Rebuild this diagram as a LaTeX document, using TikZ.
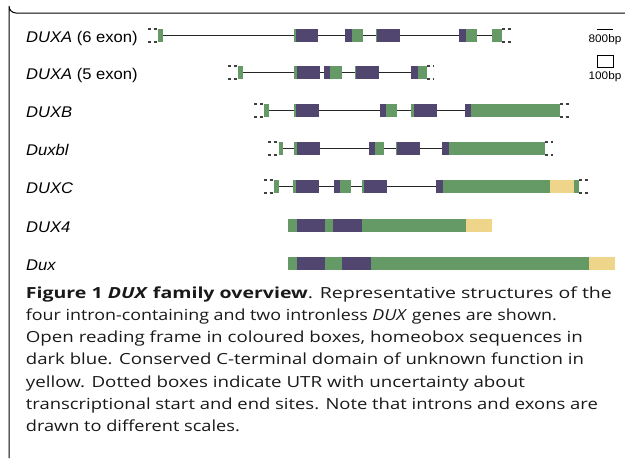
\documentclass[tikz,border=0pt]{standalone}
\usepackage{graphicx}
\usepackage{fontspec}
\setmainfont[FakeStretch=1.07]{Liberation Sans}
\newfontfamily\capfont[FakeStretch=1.2]{Open Sans}
\definecolor{exg}{RGB}{101,153,101}
\definecolor{exp}{RGB}{80,70,112}
\definecolor{exy}{RGB}{238,213,138}
\newcommand{\EX}[4]{\fill[#1] (#2,#4-6.5) rectangle (#3,#4+6.5);}
\newcommand{\UTR}[3]{\draw[utrbox] (#1,#3-6.5) -- (#2,#3-6.5) (#1,#3+6.5) -- (#2,#3+6.5);}
\newcommand{\INTRON}[3]{\draw[intron] (#1,#3) -- (#2,#3);}
\newlength\capw
\newcommand{\capfit}[2]{\settowidth\capw{#2}\pgfmathsetmacro\capsx{#1/\capw}\scalebox{\capsx}[1]{#2}}
\begin{document}
\begin{tikzpicture}[x=1pt,y=-1pt,
  intron/.style={line width=1.1pt,black!85},
  utrbox/.style={line width=1.1pt,black!75,dash pattern=on 3pt off 2.5pt},
  genelabel/.style={anchor=base west,inner sep=0pt,font=\fontsize{15.5}{18}\selectfont},
  scalelabel/.style={anchor=center,inner sep=0pt,font=\fontsize{11}{13}\selectfont},
  capline/.style={anchor=base west,inner sep=0pt,font=\capfont\fontsize{15.3}{18}\selectfont,text=black!90},
  frame/.style={line width=1pt,black}]
\useasboundingbox (0,0) rectangle (625,469);
% frame
\draw[frame] (625,13) -- (16,13) arc[start angle=90,end angle=180,radius=7] -- (9,458);
% labels
\node[genelabel] (l1) at (26,42.5) {\textit{DUXA} (6 exon)};
\node[genelabel] (l2) at (26,79.5) {\textit{DUXA} (5 exon)};
\node[genelabel] (l3) at (26,117.5) {\textit{DUXB}};
\node[genelabel] (l4) at (26,155.5) {\textit{Duxbl}};
\node[genelabel] (l5) at (26,193.5) {\textit{DUXC}};
\node[genelabel] (l6) at (26,232.5) {\textit{DUX4}};
\node[genelabel] (l7) at (26,270.5) {\textit{Dux}};
% row 1
\def\y{35.5}
\INTRON{158}{502}{\y}
\UTR{148}{158}{\y}
\EX{exg}{158}{163}{\y}
\EX{exg}{294}{296}{\y}\EX{exp}{296}{318}{\y}
\EX{exp}{345}{352}{\y}\EX{exg}{352}{363}{\y}
\EX{exg}{376}{377}{\y}\EX{exp}{377}{400}{\y}
\EX{exp}{459}{466}{\y}\EX{exg}{466}{477}{\y}
\EX{exg}{492}{502}{\y}
\UTR{502}{511}{\y}
% row 2
\def\y{72.5}
\INTRON{238}{427}{\y}
\UTR{228}{238}{\y}
\EX{exg}{238}{243}{\y}
\EX{exg}{294}{297}{\y}\EX{exp}{297}{320}{\y}
\EX{exp}{324}{330}{\y}\EX{exg}{330}{342}{\y}
\EX{exg}{355}{356}{\y}\EX{exp}{356}{379}{\y}
\EX{exp}{411}{418}{\y}\EX{exg}{418}{427}{\y}
\UTR{427}{434}{\y}
% row 3
\def\y{110.5}
\INTRON{264}{560}{\y}
\UTR{254}{264}{\y}
\EX{exg}{264}{269}{\y}
\EX{exg}{294}{296}{\y}\EX{exp}{296}{319}{\y}
\EX{exp}{380}{386}{\y}\EX{exg}{386}{397}{\y}
\EX{exg}{411}{414}{\y}\EX{exp}{414}{437}{\y}
\EX{exp}{465}{471}{\y}\EX{exg}{471}{560}{\y}
\UTR{560}{569}{\y}
% row 4
\def\y{148.5}
\INTRON{279}{545}{\y}
\UTR{268}{279}{\y}
\EX{exg}{279}{283}{\y}
\EX{exg}{294}{297}{\y}\EX{exp}{297}{320}{\y}
\EX{exp}{369}{375}{\y}\EX{exg}{375}{384}{\y}
\EX{exg}{396}{397}{\y}\EX{exp}{397}{420}{\y}
\EX{exp}{442}{449}{\y}\EX{exg}{449}{545}{\y}
\UTR{545}{553}{\y}
% row 5
\def\y{186.5}
\INTRON{274}{579}{\y}
\UTR{264}{274}{\y}
\EX{exg}{274}{279}{\y}
\EX{exg}{293}{296}{\y}\EX{exp}{296}{319}{\y}
\EX{exp}{334}{340}{\y}\EX{exg}{340}{351}{\y}
\EX{exg}{362}{364}{\y}\EX{exp}{364}{387}{\y}
\EX{exp}{436}{443}{\y}\EX{exg}{443}{550}{\y}
\EX{exy}{550}{574}{\y}\EX{exg}{574}{579}{\y}
\UTR{579}{588}{\y}
% row 6
\def\y{225.5}
\EX{exg}{288}{297}{\y}\EX{exp}{297}{325}{\y}
\EX{exg}{325}{333}{\y}\EX{exp}{333}{362}{\y}
\EX{exg}{362}{466}{\y}\EX{exy}{466}{492}{\y}
% row 7
\def\y{263.5}
\EX{exg}{288}{297}{\y}\EX{exp}{297}{325}{\y}
\EX{exg}{325}{342}{\y}\EX{exp}{342}{371}{\y}
\EX{exg}{371}{589}{\y}\EX{exy}{589}{615}{\y}
% scale legend
\coordinate (sb1) at (597,29);
\coordinate (sb2) at (613,29);
\draw[line width=0.9pt] (sb1) -- (sb2);
\node[scalelabel] (s800) at (605,39.5) {800bp};
\draw[line width=0.9pt,fill=white] (597,55) rectangle (613,67);
\node[scalelabel] (s100) at (605,76.5) {100bp};
% caption
\node[capline] (c1) at (25.7,298) {\capfit{586}{\textbf{Figure 1 \textit{DUX} family overview}. Representative structures of the}};
\node[capline] (c2) at (25.7,320.3) {\capfit{531}{four intron-containing and two intronless \textit{DUX} genes are shown.}};
\node[capline] (c3) at (25.7,342.6) {\capfit{557}{Open reading frame in coloured boxes, homeobox sequences in}};
\node[capline] (c4) at (25.7,364.9) {\capfit{558}{dark blue. Conserved C-terminal domain of unknown function in}};
\node[capline] (c5) at (25.7,387.2) {\capfit{499}{yellow. Dotted boxes indicate UTR with uncertainty about}};
\node[capline] (c6) at (25.7,409.5) {\capfit{572}{transcriptional start and end sites. Note that introns and exons are}};
\node[capline] (c7) at (25.7,431.8) {\capfit{214}{drawn to different scales.}};
\end{tikzpicture}
\end{document}
